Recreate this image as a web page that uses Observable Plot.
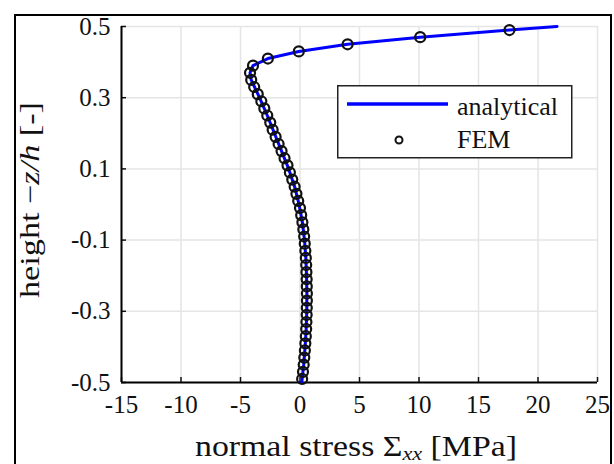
<!DOCTYPE html>
<html>
<head>
<meta charset="utf-8">
<script src="https://cdn.jsdelivr.net/npm/d3@7"></script>
<script src="https://cdn.jsdelivr.net/npm/@observablehq/plot@0.6"></script>
<style>
  body { margin: 0; background: #fff; }
  #wrap { position: relative; width: 614px; height: 464px; overflow: hidden; background: #fff; }
  #frame { position: absolute; left: 14px; top: 14px; width: 598px; height: 480px; border: 2.5px solid #000; box-sizing: border-box; pointer-events: none; }
  #chart { position: absolute; left: 0; top: 0; }
  #legend { position: absolute; left: 337px; top: 85px; }
  svg, svg text { font-family: "Liberation Serif", "Times New Roman", serif !important; }
</style>
</head>
<body>
<div id="wrap">
  <div id="chart"></div>
  <div id="legend"></div>
  <div id="frame"></div>
</div>
<script>
// ---- data ----
const xTicks = [-15, -10, -5, 0, 5, 10, 15, 20, 25];
const yTicks = [-0.5, -0.3, -0.1, 0.1, 0.3, 0.5];

// analytical solution: height -z/h and normal stress [MPa]
const anaZ = [0.5, 0.49, 0.47, 0.45, 0.43, 0.41, 0.39, 0.37, 0.35, 0.3, 0.25, 0.2, 0.15, 0.1, 0.05, 0,
  -0.05, -0.1, -0.15, -0.2, -0.25, -0.3, -0.35, -0.4, -0.45, -0.5];
const anaX = [21.6, 17.6, 10.1, 4.0, -0.1, -2.7, -3.95, -4.2, -4.1, -3.4, -2.75, -2.15, -1.55, -0.95, -0.45, -0.08,
  0.2, 0.38, 0.49, 0.55, 0.58, 0.57, 0.52, 0.43, 0.31, 0.15];

// FEM results
const femZ = [0.49, 0.47, 0.45, 0.43, 0.41, 0.39, 0.37, 0.35, 0.33, 0.31, 0.29, 0.27, 0.25, 0.23, 0.21, 0.19,
  0.17, 0.15, 0.13, 0.11, 0.09, 0.07, 0.05, 0.03, 0.01, -0.01, -0.03, -0.05, -0.07, -0.09, -0.11, -0.13,
  -0.15, -0.17, -0.19, -0.21, -0.23, -0.25, -0.27, -0.29, -0.31, -0.33, -0.35, -0.37, -0.39, -0.41, -0.43,
  -0.45, -0.47, -0.49];
const femX = [17.6, 10.1, 4.0, -0.1, -2.7, -3.95, -4.2, -4.1, -3.85, -3.55, -3.25, -3.0, -2.75, -2.5, -2.3, -2.05,
  -1.8, -1.55, -1.3, -1.05, -0.85, -0.65, -0.45, -0.3, -0.15, 0.0, 0.1, 0.2, 0.28, 0.35, 0.4, 0.45,
  0.49, 0.52, 0.54, 0.56, 0.57, 0.58, 0.58, 0.57, 0.56, 0.54, 0.52, 0.49, 0.45, 0.41, 0.36,
  0.31, 0.25, 0.18];

const seriesNames = ["analytical", "FEM"];

const ana = anaZ.map((z, i) => ({z, x: anaX[i]}));
const fem = femZ.map((z, i) => ({z, x: femX[i]}));

// ---- layout ----
const W = 614, H = 464;
const mL = 121, mR = 17, mT = 26, mB = 82;
const frameW = W - mL - mR, frameH = H - mT - mB;
const tickLen = 5;
const serif = "Liberation Serif";

const plot = Plot.plot({
  width: W,
  height: H,
  marginLeft: mL,
  marginRight: mR,
  marginTop: mT,
  marginBottom: mB,
  style: {fontFamily: serif, fontSize: "25px", background: "transparent", color: "#111"},
  x: {domain: [-15, 25]},
  y: {domain: [-0.5, 0.5]},
  marks: [
    Plot.gridX(xTicks, {stroke: "#e5e5e5", strokeOpacity: 1, strokeWidth: 1.5}),
    Plot.gridY(yTicks, {stroke: "#e5e5e5", strokeOpacity: 1, strokeWidth: 1.5}),
    Plot.axisX(xTicks, {tickSize: 0, tickPadding: 13, tickFormat: d => String(d), fontSize: 25, label: null, fill: "#111"}),
    Plot.axisY(yTicks, {tickSize: 0, tickPadding: 11, tickFormat: d => String(d), fontSize: 25, label: null, fill: "#111"}),
    Plot.tickX(xTicks, {x: d => d, insetTop: frameH - tickLen, stroke: "#111", strokeWidth: 1.5}),
    Plot.tickY(yTicks, {y: d => d, insetRight: frameW - tickLen, stroke: "#111", strokeWidth: 1.5}),
    Plot.ruleX([-15], {stroke: "#000", strokeWidth: 2}),
    Plot.ruleY([-0.5], {stroke: "#000", strokeWidth: 2}),
    Plot.line(ana, {x: "x", y: "z", stroke: "#0000ff", strokeWidth: 3}),
    Plot.dot(fem, {x: "x", y: "z", r: 5, stroke: "#111", strokeWidth: 2.2, fill: "none"})
  ]
});
document.getElementById("chart").appendChild(plot);

const svg = d3.select(plot);
svg.selectAll("text").attr("font-family", serif);

// axis labels (real text, with math-style italics and subscripts)
const xl = svg.append("text")
  .attr("x", mL + frameW / 2 - 3)
  .attr("y", 456)
  .attr("text-anchor", "middle")
  .attr("font-family", serif)
  .attr("font-size", 29)
  .attr("fill", "#111")
  .attr("textLength", 322)
  .attr("lengthAdjust", "spacingAndGlyphs");
xl.append("tspan").text("normal stress Σ");
xl.append("tspan").attr("font-style", "italic").attr("font-size", 19).attr("dy", 4).text("xx");
xl.append("tspan").attr("dy", -4).text(" [MPa]");

const yl = svg.append("text")
  .attr("transform", `translate(39, ${mT + 174}) rotate(-90)`)
  .attr("text-anchor", "middle")
  .attr("font-family", serif)
  .attr("font-size", 27)
  .attr("fill", "#111")
  .attr("textLength", 196)
  .attr("lengthAdjust", "spacingAndGlyphs");
yl.append("tspan").text("height ");
yl.append("tspan").text("−");
yl.append("tspan").attr("font-style", "italic").text("z/h");
yl.append("tspan").text(" [-]");

// legend
const lg = d3.select("#legend").append("svg").attr("width", 236).attr("height", 74);
lg.append("rect").attr("x", 0.75).attr("y", 0.75).attr("width", 234).attr("height", 72)
  .attr("fill", "#fff").attr("stroke", "#222").attr("stroke-width", 1.5);
lg.append("line").attr("x1", 10).attr("x2", 111).attr("y1", 19).attr("y2", 19)
  .attr("stroke", "#0000ff").attr("stroke-width", 3.5);
lg.append("circle").attr("cx", 62).attr("cy", 55).attr("r", 3.5)
  .attr("fill", "none").attr("stroke", "#111").attr("stroke-width", 2);
lg.append("text").attr("x", 120).attr("y", 30).attr("font-family", serif).attr("font-size", 26).attr("fill", "#111").text(seriesNames[0]);
lg.append("text").attr("x", 120).attr("y", 63).attr("font-family", serif).attr("font-size", 26).attr("fill", "#111").text(seriesNames[1]);
</script>
</body>
</html>
